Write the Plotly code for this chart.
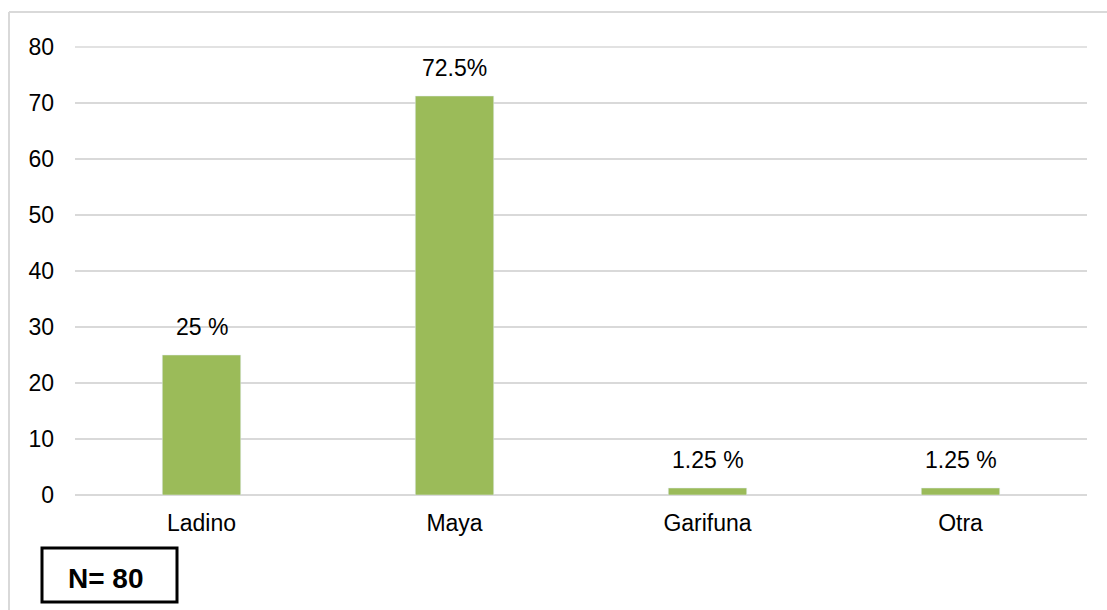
import plotly.graph_objects as go

categories = ["Ladino", "Maya", "Garifuna", "Otra"]
values = [25, 71.25, 1.25, 1.25]
labels = ["25 %", "72.5%", "1.25 %", "1.25 %"]
y_ticks = [0, 10, 20, 30, 40, 50, 60, 70, 80]

W, H = 1107, 610
L, R, T, B = 75, 20, 47, 115
pw, ph = W - L - R, H - T - B
FONT = "Liberation Sans, Arial"

def px(x):
    return (x - L) / pw

def py(y):
    return (H - B - y) / ph

fig = go.Figure()
fig.add_trace(go.Bar(x=categories, y=values, marker_color="#9BBB59", width=0.31,
                     hoverinfo="skip"))

for c, v, t in zip(categories, values, labels):
    fig.add_annotation(x=c, y=v, text=t, showarrow=False, yanchor="bottom", yshift=13,
                       font=dict(size=23, color="#000000", family=FONT))

# top gridline at the range edge
fig.add_shape(type="line", xref="paper", yref="paper", x0=0, x1=1, y0=1, y1=1,
              line=dict(color="#d9d9d9", width=1.5), layer="below")

# N box
fig.add_shape(type="rect", xref="paper", yref="paper",
              x0=px(42), x1=px(177), y0=py(548), y1=py(602),
              line=dict(color="black", width=3), fillcolor="white")
fig.add_annotation(xref="paper", yref="paper", x=px(106), y=py(578), text="<b>N= 80</b>",
                   xanchor="center", yanchor="middle",
                   showarrow=False, font=dict(size=28, color="black", family=FONT))

# outer frame (top and left)
fig.add_shape(type="line", xref="paper", yref="paper", x0=px(9), x1=px(1107), y0=py(12), y1=py(12),
              line=dict(color="#d9d9d9", width=2))
fig.add_shape(type="line", xref="paper", yref="paper", x0=px(9), x1=px(9), y0=py(12), y1=py(610),
              line=dict(color="#d9d9d9", width=2))

fig.update_layout(
    width=W, height=H,
    margin=dict(l=L, r=R, t=T, b=B),
    paper_bgcolor="white", plot_bgcolor="white",
    showlegend=False, bargap=0.69,
    font=dict(family=FONT, size=23, color="black"),
)
fig.update_yaxes(range=[0, 80], tickvals=y_ticks, gridcolor="#d9d9d9", gridwidth=1.5,
                 zeroline=True, zerolinecolor="#d9d9d9", zerolinewidth=1.5,
                 showline=False, ticks="", ticklabelstandoff=20,
                 tickfont=dict(size=23, color="black", family=FONT))
fig.update_xaxes(showline=False, ticks="", tickfont=dict(size=23, color="black", family=FONT),
                 ticklabelstandoff=12)

fig.write_html("out.html", config={"displayModeBar": False},
               post_script="document.body.style.margin='0';")
